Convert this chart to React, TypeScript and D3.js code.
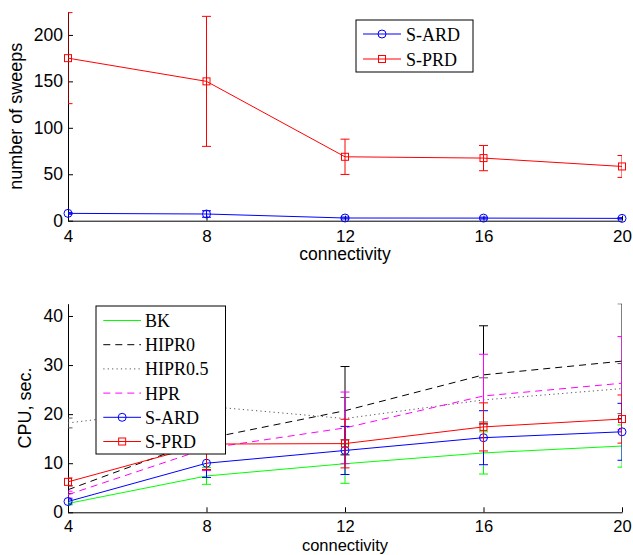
import React, { useEffect, useRef } from "react";
import * as d3 from "d3";

const connectivity = [4, 8, 12, 16, 20];

// top panel: number of sweeps
const sweepsSARD = [7.9, 7.2, 2.9, 2.8, 2.5];
const sweepsSARDErr = [1.0, 3.5, 1.0, 1.0, 0.8];
const sweepsSPRD = [175, 150, 68.8, 67.4, 58.4];
const sweepsSPRDErr = [49, 70, 19, 13.6, 11.8];
const sweepsTicks = [0, 50, 100, 150, 200];

// bottom panel: CPU time, sec.
const cpuBK = [1.8, 7.4, 9.9, 12.1, 13.5];
const cpuBKErr = [0.3, 1.7, 4.0, 4.3, 4.3];
const cpuHIPR0 = [4.6, 15.0, 20.7, 28.0, 30.8];
const cpuHIPR0Err = [0.8, 6.3, 9.0, 10.0, 11.7];
const cpuHIPR05 = [18.2, 21.6, 19.1, 22.9, 25.2];
const cpuHIPR05Err = [1.0, 4.0, 4.3, 4.5, 5.1];
const cpuHPR = [3.6, 13.0, 17.2, 23.7, 26.3];
const cpuHPRErr = [0.7, 4.5, 7.3, 8.5, 9.5];
const cpuSARD = [2.2, 10.0, 12.6, 15.2, 16.4];
const cpuSARDErr = [0.5, 2.9, 4.9, 5.5, 5.8];
const cpuSPRD = [6.2, 13.9, 14.0, 17.4, 19.0];
const cpuSPRDErr = [0.8, 5.2, 4.95, 4.9, 4.9];
const cpuTicks = [0, 10, 20, 30, 40];

const SANS = "'Liberation Sans', Arial, Helvetica, sans-serif";
const SERIF = "'Liberation Serif', 'DejaVu Serif', serif";

type Series = {
  name: string;
  values: number[];
  errs: number[];
  color: string;
  dash?: string;
  marker?: "circle" | "square";
};

function drawMarker(g: any, kind: string | undefined, cx: number, cy: number, color: string) {
  if (kind === "circle") {
    g.append("circle").attr("cx", cx).attr("cy", cy).attr("r", 4)
      .attr("fill", "none").attr("stroke", color).attr("stroke-width", 1);
  } else if (kind === "square") {
    g.append("rect").attr("x", cx - 3.5).attr("y", cy - 3.5).attr("width", 7).attr("height", 7)
      .attr("fill", "none").attr("stroke", color).attr("stroke-width", 1);
  }
}

function panel(svg: any, o: any) {
  const x = d3.scaleLinear().domain([4, 20]).range([68, 622]);
  const y = d3.scaleLinear().domain([0, o.yMax]).range([o.bottom, o.top]);
  const g = svg.append("g");

  g.append("defs").append("clipPath").attr("id", o.id)
    .append("rect").attr("x", 68).attr("y", o.top).attr("width", 554).attr("height", o.bottom - o.top);

  // axes
  const gx = g.append("g").attr("transform", `translate(0,${o.bottom})`)
    .call(d3.axisBottom(x).tickValues(connectivity).tickSize(-5).tickSizeOuter(0).tickFormat(d3.format("d")));
  gx.attr("font-family", SANS).attr("font-size", o.xTickSize);
  gx.selectAll("text").attr("y", o.tickBaseline).attr("dy", null).attr("fill", "#000");
  gx.selectAll("line,path").attr("stroke", "#000");

  const gy = g.append("g").attr("transform", "translate(68,0)")
    .call(d3.axisLeft(y).tickValues(o.yTicks).tickSize(-5).tickSizeOuter(0).tickPadding(5));
  gy.attr("font-family", SANS).attr("font-size", 17.5);
  gy.selectAll("text").attr("fill", "#000");
  gy.selectAll("line,path").attr("stroke", "#000");

  g.append("text").attr("x", 345).attr("y", o.xLabelBaseline).attr("text-anchor", "middle")
    .attr("font-family", SANS).attr("font-size", o.xLabelSize).text("connectivity");
  g.append("text").attr("transform", `translate(${o.yLabelX},${(o.top + o.bottom) / 2}) rotate(-90)`)
    .attr("text-anchor", "middle").attr("font-family", SANS).attr("font-size", 18).text(o.yLabel);

  const line = d3.line<number>().x((d, i) => x(connectivity[i])).y((d) => y(d));

  o.series.forEach((s: Series) => {
    const c = g.append("g").attr("clip-path", `url(#${o.id})`);
    c.append("path").attr("d", line(s.values)).attr("fill", "none").attr("stroke", s.color)
      .attr("stroke-width", 1).attr("stroke-dasharray", s.dash || null);
    s.values.forEach((v, i) => {
      const cx = x(connectivity[i]);
      const y0 = y(v - s.errs[i]);
      const y1 = y(v + s.errs[i]);
      c.append("line").attr("x1", cx).attr("x2", cx).attr("y1", y0).attr("y2", y1)
        .attr("stroke", s.color).attr("stroke-width", 1);
      [y0, y1].forEach((yy) => {
        c.append("line").attr("x1", cx - 4.5).attr("x2", cx + 4.5).attr("y1", yy).attr("y2", yy)
          .attr("stroke", s.color).attr("stroke-width", 1);
      });
    });
    const m = g.append("g");
    s.values.forEach((v, i) => drawMarker(m, s.marker, x(connectivity[i]), y(v), s.color));
  });

  // legend
  const L = o.legend;
  const lg = g.append("g");
  lg.append("rect").attr("x", L.x).attr("y", L.y).attr("width", L.w).attr("height", L.h)
    .attr("fill", "#fff").attr("stroke", "#000").attr("stroke-width", 1);
  o.series.forEach((s: Series, i: number) => {
    const ry = L.rowY0 + i * L.rowStep;
    lg.append("line").attr("x1", L.lineX0).attr("x2", L.lineX1).attr("y1", ry).attr("y2", ry)
      .attr("stroke", s.color).attr("stroke-width", 1).attr("stroke-dasharray", s.dash || null);
    drawMarker(lg, s.marker, (L.lineX0 + L.lineX1) / 2, ry, s.color);
    lg.append("text").attr("x", L.textX).attr("y", ry + 6.5).attr("font-family", SERIF)
      .attr("font-size", 18).attr("fill", "#000").text(s.name);
  });
}

export default function App() {
  const ref = useRef<SVGSVGElement>(null);

  useEffect(() => {
    const svg = d3.select(ref.current);
    svg.selectAll("*").remove();

    panel(svg, {
      id: "clipTop",
      top: 11.7,
      bottom: 220.7,
      yMax: 225,
      yTicks: sweepsTicks,
      tickBaseline: 21,
      xTickSize: 17,
      xLabelBaseline: 260,
      xLabelSize: 17.5,
      yLabel: "number of sweeps",
      yLabelX: 22,
      series: [
        { name: "S-ARD", values: sweepsSARD, errs: sweepsSARDErr, color: "#0000ff", marker: "circle" },
        { name: "S-PRD", values: sweepsSPRD, errs: sweepsSPRDErr, color: "#ff0000", marker: "square" },
      ],
      legend: { x: 356, y: 20, w: 117, h: 52, rowY0: 34, rowStep: 25, lineX0: 363, lineX1: 401, textX: 406 },
    });

    panel(svg, {
      id: "clipBottom",
      top: 303.7,
      bottom: 512.3,
      yMax: 42.5,
      yTicks: cpuTicks,
      tickBaseline: 19.5,
      xTickSize: 16.5,
      xLabelBaseline: 550.5,
      xLabelSize: 16.5,
      yLabel: "CPU, sec.",
      yLabelX: 31,
      series: [
        { name: "BK", values: cpuBK, errs: cpuBKErr, color: "#00ff00" },
        { name: "HIPR0", values: cpuHIPR0, errs: cpuHIPR0Err, color: "#000000", dash: "7,5" },
        { name: "HIPR0.5", values: cpuHIPR05, errs: cpuHIPR05Err, color: "#555555", dash: "1.2,3.2" },
        { name: "HPR", values: cpuHPR, errs: cpuHPRErr, color: "#ff00ff", dash: "7,5" },
        { name: "S-ARD", values: cpuSARD, errs: cpuSARDErr, color: "#0000ff", marker: "circle" },
        { name: "S-PRD", values: cpuSPRD, errs: cpuSPRDErr, color: "#ff0000", marker: "square" },
      ],
      legend: { x: 96, y: 306, w: 129.5, h: 148, rowY0: 320.5, rowStep: 24.2, lineX0: 103.3, lineX1: 141, textX: 145 },
    });
  }, []);

  return (
    <div style={{ position: "absolute", left: 0, top: 0, background: "#fff" }}>
      <svg ref={ref} width={633} height={555} style={{ display: "block" }} />
    </div>
  );
}
